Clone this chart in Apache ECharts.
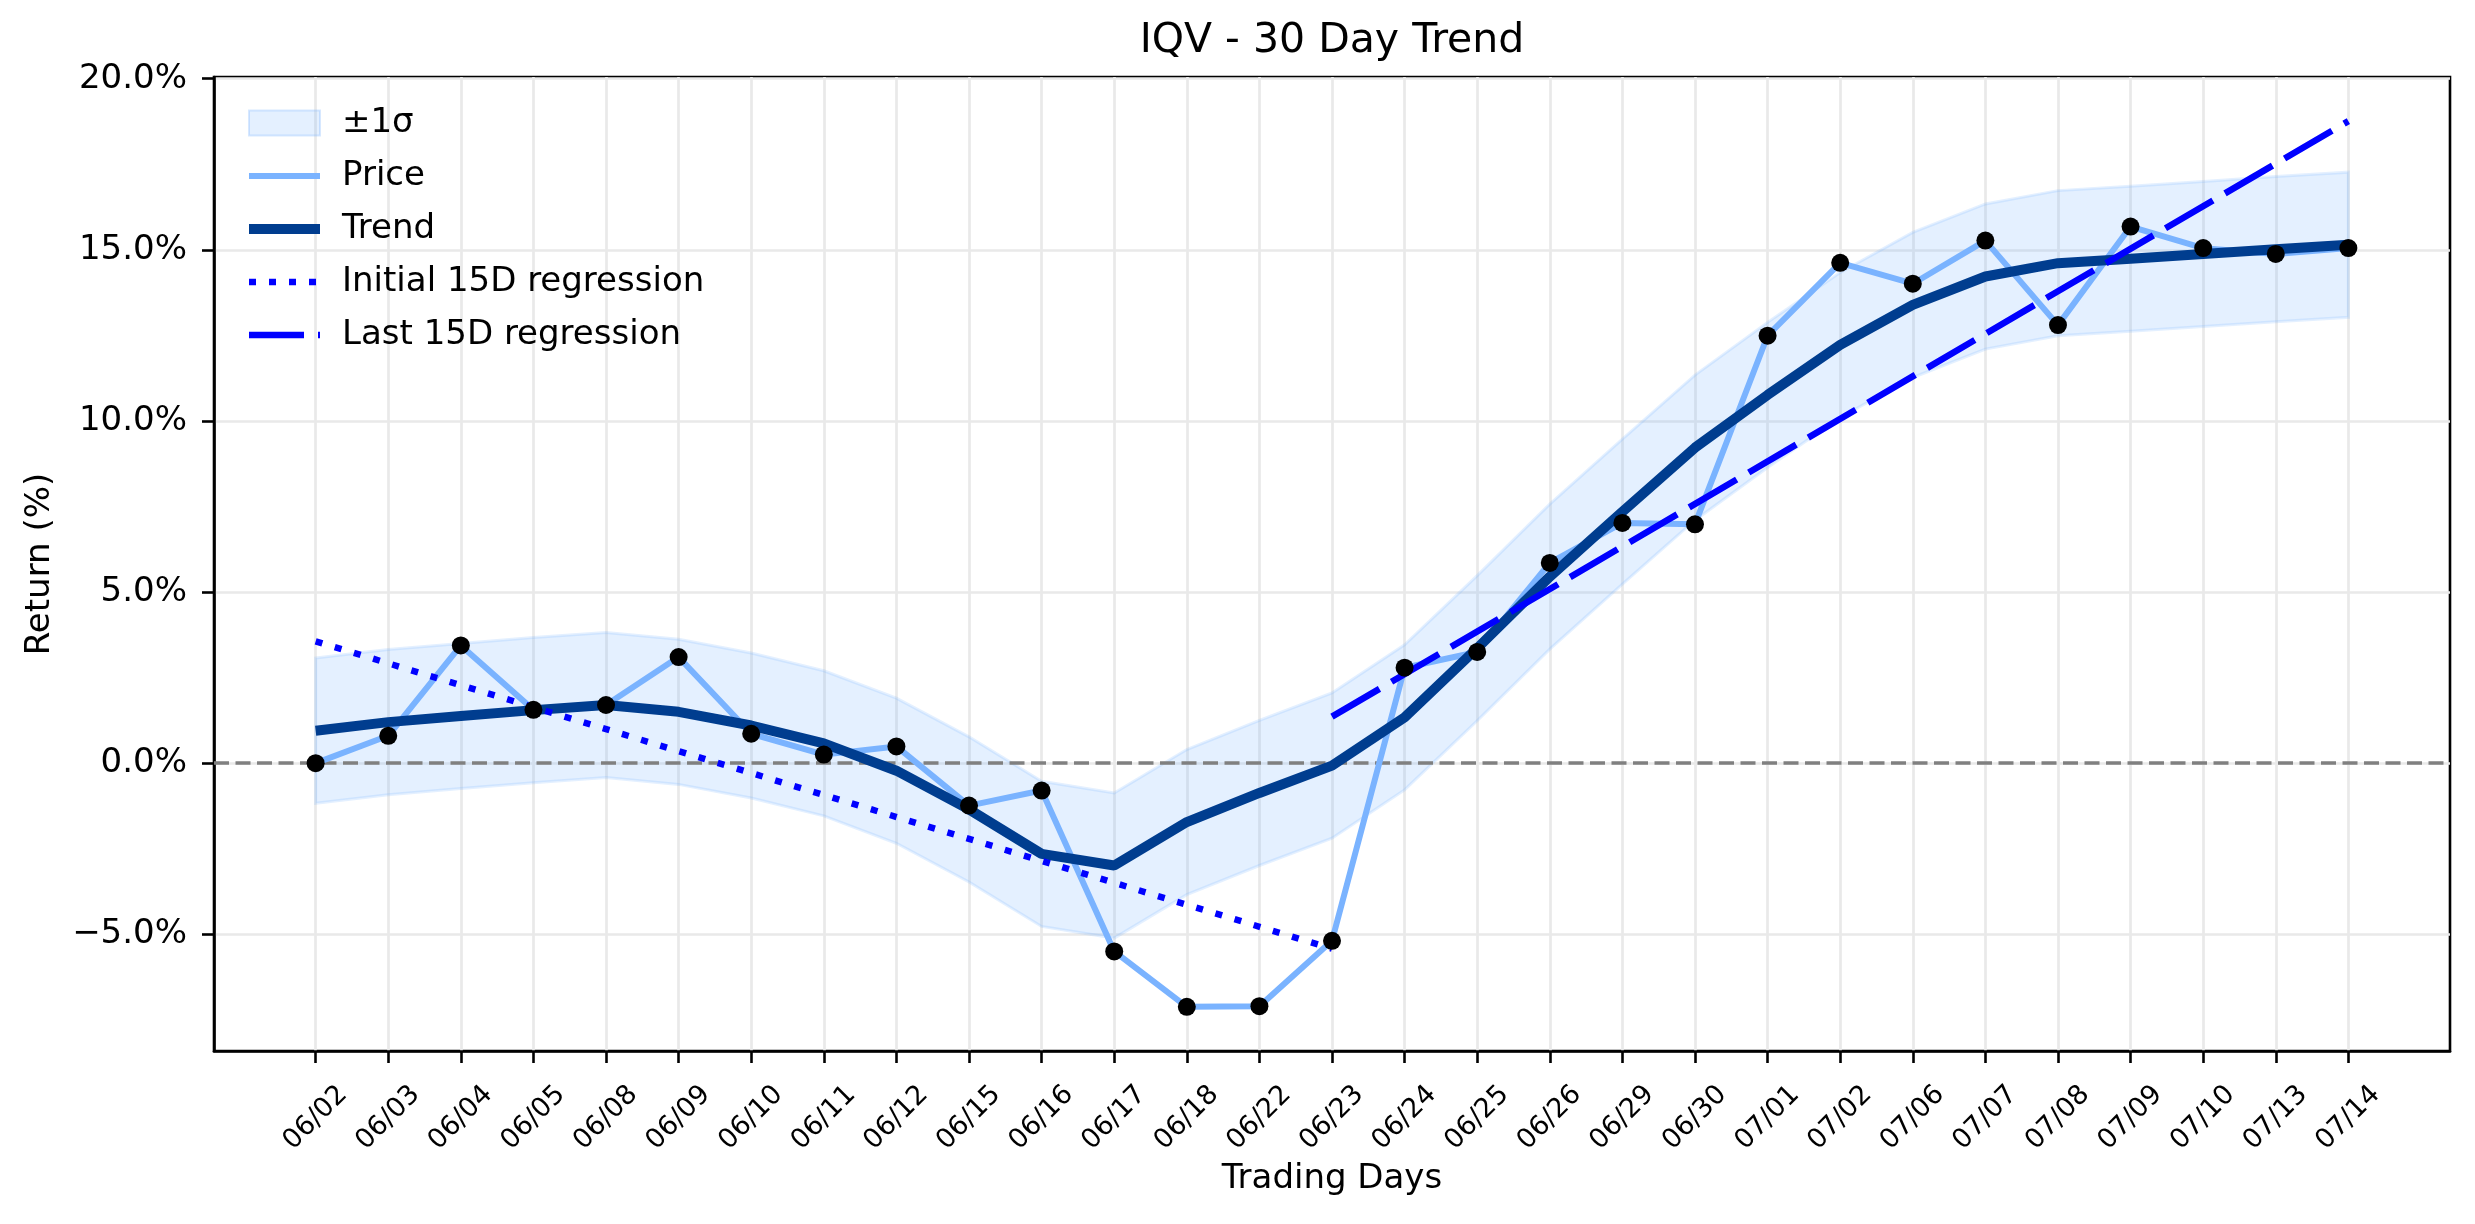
<!DOCTYPE html>
<html>
<head>
<meta charset="utf-8">
<script src="https://cdn.jsdelivr.net/npm/echarts@6/dist/echarts.min.js"></script>
<style>
html, body {margin: 0; padding: 0; background: #fff;}
#chart {width: 2475px; height: 1224px;}
</style>
</head>
<body>
<div id="chart"></div>
<script>
// trading days (x categories)
var days = ["06/02", "06/03", "06/04", "06/05", "06/08", "06/09", "06/10", "06/11", "06/12", "06/15",
	"06/16", "06/17", "06/18", "06/22", "06/23", "06/24", "06/25", "06/26", "06/29", "06/30",
	"07/01", "07/02", "07/06", "07/07", "07/08", "07/09", "07/10", "07/13", "07/14"];
// cumulative return, %
var price = [0.00, 0.80, 3.44, 1.56, 1.70, 3.10, 0.86, 0.25, 0.49, -1.24,
	-0.80, -5.50, -7.12, -7.10, -5.19, 2.79, 3.25, 5.85, 7.02, 6.98,
	12.49, 14.62, 14.01, 15.27, 12.80, 15.68, 15.05, 14.88, 15.05];
var trend = [0.95, 1.20, 1.38, 1.55, 1.70, 1.50, 1.10, 0.58, -0.22, -1.35,
	-2.65, -2.99, -1.72, -0.87, -0.07, 1.34, 3.36, 5.45, 7.35, 9.22,
	10.76, 12.22, 13.39, 14.22, 14.61, 14.74, 14.88, 15.02, 15.15];
var bandUpper = [3.07, 3.32, 3.50, 3.67, 3.82, 3.62, 3.22, 2.70, 1.90, 0.77,
	-0.53, -0.87, 0.40, 1.25, 2.05, 3.46, 5.48, 7.57, 9.47, 11.34,
	12.88, 14.34, 15.51, 16.34, 16.73, 16.86, 17.00, 17.14, 17.27];
var bandLower = [-1.17, -0.92, -0.74, -0.57, -0.42, -0.62, -1.02, -1.54, -2.34, -3.47,
	-4.77, -5.11, -3.84, -2.99, -2.19, -0.78, 1.24, 3.33, 5.23, 7.10,
	8.64, 10.10, 11.27, 12.10, 12.49, 12.62, 12.76, 12.90, 13.03];
// regression lines: day index -> value
var initRegX = [0, 14];
var initRegY = [3.56, -5.42];
var lastRegX = [14, 28];
var lastRegY = [1.36, 18.76];
var yTicks = [-5, 0, 5, 10, 15, 20];

var dayIdx = days.map(function (d, i) { return i; });
function pairs(xs, ys) {
	return xs.map(function (x, i) { return [x, ys[i]]; });
}
var FONT = "DejaVu Sans";
var BAND = "rgba(122,179,255,0.2)";
var PRICE_C = "#7ab3ff", TREND_C = "#003d8f", REG_C = "#0000ff";
var DOTTED = [7, 13], DASHED = [55, 14];

// legend entry showing only a line, no marker
function lineEntry(name, color, width, type) {
	return {name: name, itemStyle: {opacity: 0}, lineStyle: {color: color, width: width, type: type}};
}

var myChart = echarts.init(document.getElementById("chart"));
var option = {
	backgroundColor: "#fff",
	textStyle: {fontFamily: FONT, color: "#000"},
	animation: false,
	title: {
		text: "IQV - 30 Day Trend",
		left: 1332, top: 21, textAlign: "center", padding: 0,
		textStyle: {fontFamily: FONT, fontSize: 41, fontWeight: "normal", color: "#000"}
	},
	grid: {
		left: 214, right: 25, top: 77, bottom: 173,
		show: true, borderColor: "#000", borderWidth: 2.6, backgroundColor: "transparent"
	},
	legend: {
		orient: "vertical",
		left: 244, top: 106,
		itemWidth: 71, itemHeight: 25, itemGap: 19,
		padding: 0,
		textStyle: {fontFamily: FONT, fontSize: 34, color: "#000", padding: [0, 0, 0, 17]},
		data: [
			{name: "±1σ", icon: "rect", itemStyle: {color: BAND, borderColor: "rgba(122,179,255,0.3)", borderWidth: 2}},
			lineEntry("Price", PRICE_C, 6, "solid"),
			lineEntry("Trend", TREND_C, 10, "solid"),
			lineEntry("Initial 15D regression", REG_C, 6.5, DOTTED),
			lineEntry("Last 15D regression", REG_C, 6.5, DASHED)
		]
	},
	xAxis: {
		type: "value",
		min: -1.4, max: 29.4,
		name: "Trading Days", nameLocation: "middle", nameGap: 111,
		nameTextStyle: {fontFamily: FONT, fontSize: 34, color: "#000"},
		axisLine: {show: true, onZero: false, lineStyle: {color: "#000", width: 2.6}},
		axisTick: {show: true, length: 12, customValues: dayIdx, lineStyle: {color: "#000", width: 2.6}},
		axisLabel: {
			customValues: dayIdx, rotate: 45, align: "center", verticalAlign: "middle", margin: 67,
			fontFamily: FONT, fontSize: 27, color: "#000",
			formatter: function (v) { return days[Math.round(v)]; }
		},
		splitLine: {show: true, lineStyle: {color: "#e9e9e9", width: 2.7}}
	},
	yAxis: {
		type: "value",
		min: -8.41, max: 20.05,
		name: "Return (%)", nameLocation: "middle", nameGap: 157, nameRotate: 90,
		nameTextStyle: {fontFamily: FONT, fontSize: 34, color: "#000"},
		axisLine: {show: true, onZero: false, lineStyle: {color: "#000", width: 2.6}},
		axisTick: {show: true, length: 12, customValues: yTicks, lineStyle: {color: "#000", width: 2.6}},
		axisLabel: {
			customValues: yTicks, margin: 27,
			fontFamily: FONT, fontSize: 34, color: "#000",
			formatter: function (v) { return (v < 0 ? "\u2212" : "") + Math.abs(v).toFixed(1) + "%"; }
		},
		splitLine: {show: true, lineStyle: {color: "#e9e9e9", width: 2.7}}
	},
	series: [{
		name: "±1σ",
		type: "custom",
		z: 1,
		silent: true,
		data: dayIdx.map(function (i) { return [i, bandLower[i], bandUpper[i]]; }),
		encode: {x: 0, y: [1, 2]},
		itemStyle: {color: BAND},
		renderItem: function (params, api) {
			if (params.dataIndex !== 0) return null;
			var pts = [];
			for (var i = 0; i < days.length; i++) pts.push(api.coord([i, bandUpper[i]]));
			for (var j = days.length - 1; j >= 0; j--) pts.push(api.coord([j, bandLower[j]]));
			return {
				type: "polygon",
				shape: {points: pts},
				style: {fill: BAND, stroke: BAND, lineWidth: 3}
			};
		},
		markLine: {
			silent: true, z: 2,
			symbol: ["none", "none"],
			label: {show: false},
			lineStyle: {color: "#808080", width: 3.5, type: [15, 6.5]},
			data: [{yAxis: 0}]
		}
	}, {
		name: "Price",
		type: "line",
		z: 3,
		data: pairs(dayIdx, price),
		symbol: "none",
		lineStyle: {color: PRICE_C, width: 6},
		itemStyle: {color: PRICE_C}
	}, {
		name: "Trend",
		type: "line",
		z: 3,
		data: pairs(dayIdx, trend),
		symbol: "none",
		lineStyle: {color: TREND_C, width: 10},
		itemStyle: {color: TREND_C}
	}, {
		name: "Initial 15D regression",
		type: "line",
		z: 4,
		data: pairs(initRegX, initRegY),
		symbol: "none",
		lineStyle: {color: REG_C, width: 6.5, type: DOTTED},
		itemStyle: {color: REG_C}
	}, {
		name: "Last 15D regression",
		type: "line",
		z: 4,
		data: pairs(lastRegX, lastRegY),
		symbol: "none",
		lineStyle: {color: REG_C, width: 6.5, type: DASHED},
		itemStyle: {color: REG_C}
	}, {
		name: "dots",
		type: "scatter",
		z: 5,
		data: pairs(dayIdx, price),
		symbol: "circle",
		symbolSize: 18,
		itemStyle: {color: "#000", opacity: 1}
	}]
};
myChart.setOption(option);
</script>
</body>
</html>
